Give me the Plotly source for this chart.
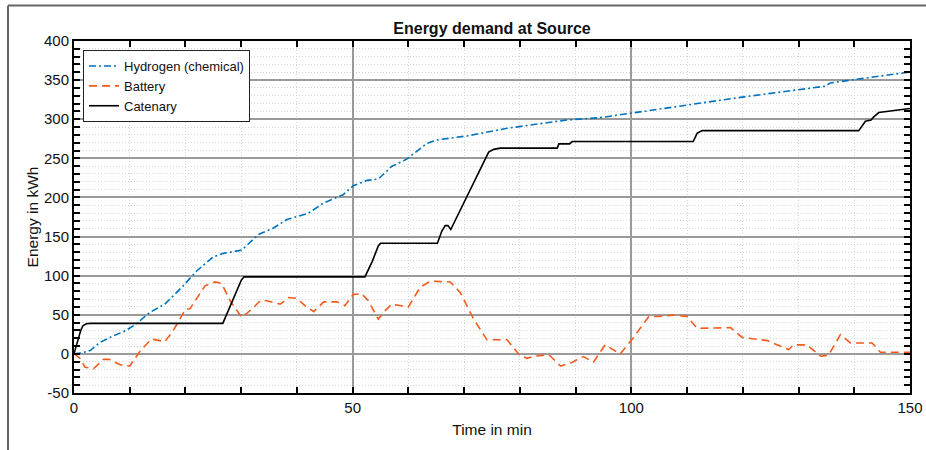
import plotly.graph_objects as go

# ---- data ----
hyd_t = [0, 1.5, 2.9, 4.7, 7.1, 8.9, 11, 13.6, 16.3, 19.6, 22, 25, 26.8, 30.1, 33.1, 35.8, 38.2,
         42.1, 44.8, 48.3, 50.1, 52.6, 54.6, 57, 59.7, 63.3, 65.1, 70.5, 77.7, 88.4, 94.4, 100.1,
         111.2, 120.2, 130.3, 134.8, 135.7, 139.9, 150]
hyd_e = [0, 1.5, 4.3, 14.8, 23.3, 28.4, 37.3, 53, 63.6, 87, 106, 124, 128.5, 132.7, 152.7, 161, 171.8,
         180, 193, 203.5, 215, 221.8, 223.5, 239.6, 249, 269, 273.5, 278.6, 288.4, 299, 302, 308,
         320, 328.6, 338, 342.2, 346.4, 350.6, 360.4]

bat_t = [0, 1, 2, 3.5, 5.3, 6.3, 8.3, 10, 11.9, 13.9, 16.3, 17.8, 20, 20.8, 23.5, 25.3, 26.5, 28,
         30.1, 31.9, 33.4, 34.6, 37, 38.5, 40, 41.5, 43, 44.8, 47.2, 48.6, 50.1, 51.6, 52.8, 54.6,
         55.8, 57, 60, 62.1, 63.9, 67.5, 69.3, 71.7, 74.1, 77.7, 80, 81.3, 82.5, 85.2, 87.3, 89.4,
         91.4, 93.2, 95.3, 98, 100.4, 103.1, 105.2, 107.6, 110, 111.8, 117.8, 119.9, 124.4, 128.2,
         129.1, 131.5, 134, 135.4, 137.5, 139.3, 143.2, 144.7, 150]
bat_e = [0, -5, -17, -19, -7, -7, -14, -15.6, 4, 19, 15.7, 29.7, 57, 57.6, 87, 92, 90, 68,
         46.6, 57, 68, 68, 63.6, 72, 71, 61.5, 54, 66.5, 66.5, 61.5, 76, 77, 68, 44.5,
         55, 63.6, 60, 85, 93, 92, 78.5, 44.5, 18, 18, -2, -5.7, -3, -1, -15.6, -10.6,
         -3.4, -10.6, 11.5, 0, 21, 47.5, 48, 49.6, 48, 32.6, 33.5, 21, 17, 5.5,
         11.5, 11.5, -3, -1.5, 24.6, 14, 14, 2, 2]

cat_t = [0, 0.6, 1.2, 1.6, 2.2, 3, 26.7, 30.0, 30.5, 52.2, 53.5, 54.6, 55, 65.2, 66, 66.6, 67.1,
         67.6, 74.4, 75.3, 76.5, 86.7, 87, 88.9, 89.4, 111.1, 111.8, 112.7, 140.8, 142, 143, 143.5,
         144.4, 150]
cat_e = [0, 15, 30, 36, 38.5, 39, 39, 94, 98.5, 98.5, 118, 138, 141.5, 141.5, 157, 164, 164,
         159, 258, 261.5, 263, 263, 268.5, 268.5, 271.5, 271.5, 282, 285.4, 285.4, 297.5, 299, 303,
         308.5, 313.8]

names = ["Hydrogen (chemical)", "Battery", "Catenary"]
title_text = "Energy demand at Source"
x_title = "Time in min"
y_title = "Energy in kWh"
x_tickvals = [0, 50, 100, 150]
x_ticktext = ["0", "50", "100", "150"]
y_tickvals = [-50, 0, 50, 100, 150, 200, 250, 300, 350, 400]
y_ticktext = ["-50", "0", "50", "100", "150", "200", "250", "300", "350", "400"]

FONT = "Liberation Sans, Arial, Helvetica, sans-serif"

W, H = 926, 450
L, T = 74, 41
PW, PH = 836, 352.3
R = W - L - PW
B = H - T - PH

fig = go.Figure()
fig.add_trace(go.Scatter(x=hyd_t, y=hyd_e, mode="lines", name=names[0],
                         line=dict(color="#0072BD", width=1.6, dash="7px,3px,2px,3px")))
fig.add_trace(go.Scatter(x=bat_t, y=bat_e, mode="lines", name=names[1],
                         line=dict(color="#F55A1C", width=1.6, dash="8px,5px")))
fig.add_trace(go.Scatter(x=cat_t, y=cat_e, mode="lines", name=names[2],
                         line=dict(color="#000000", width=1.6)))

axis_common = dict(
    showline=True, linecolor="black", linewidth=2, mirror="allticks",
    ticks="inside", ticklen=6, tickwidth=1.5, tickcolor="black",
    showgrid=True, gridcolor="#9a9a9a", gridwidth=1.5, zeroline=False,
    tickfont=dict(family=FONT, size=15, color="#111"),
    minor=dict(dtick=10, tick0=0, ticks="inside", ticklen=6, tickwidth=1.5, tickcolor="black",
               showgrid=True, gridcolor="#d6d6d6", gridwidth=1, griddash="1px,2px"),
)

fig.update_xaxes(range=[0, 150], tickmode="array", tickvals=x_tickvals, ticktext=x_ticktext,
                 title=dict(text=x_title, font=dict(family=FONT, size=15.5, color="#111"), standoff=9),
                 **axis_common)
fig.update_yaxes(range=[-50, 400], tickmode="array", tickvals=y_tickvals, ticktext=y_ticktext,
                 title=dict(text=y_title, font=dict(family=FONT, size=15.5, color="#111"), standoff=2),
                 **axis_common)

fig.update_layout(
    width=W, height=H,
    margin=dict(l=L, r=R, t=T, b=B, autoexpand=False),
    paper_bgcolor="white", plot_bgcolor="white",
    title=dict(text="<b>" + title_text + "</b>", x=(L + PW / 2) / W, xanchor="center",
               y=1 - 28 / H, yanchor="middle", yref="container",
               font=dict(family=FONT, size=16, color="#111")),
    showlegend=True,
    legend=dict(x=9 / PW, y=1 - 9 / PH, xanchor="left", yanchor="top",
                bgcolor="white", bordercolor="#222", borderwidth=1,
                font=dict(family=FONT, size=13, color="#111"),
                tracegroupgap=0, itemwidth=30),
    shapes=[
        dict(type="line", xref="paper", yref="paper", x0=-66 / PW, x1=-66 / PW,
             y0=-0.3, y1=1 + 35.5 / PH, line=dict(color="#666", width=2)),
        dict(type="line", xref="paper", yref="paper", x0=-66 / PW, x1=1.05,
             y0=1 + 35.5 / PH, y1=1 + 35.5 / PH, line=dict(color="#666", width=2)),
    ],
)

fig.write_html("out.html", config={"displayModeBar": False},
               post_script="document.body.style.margin='0px';")
